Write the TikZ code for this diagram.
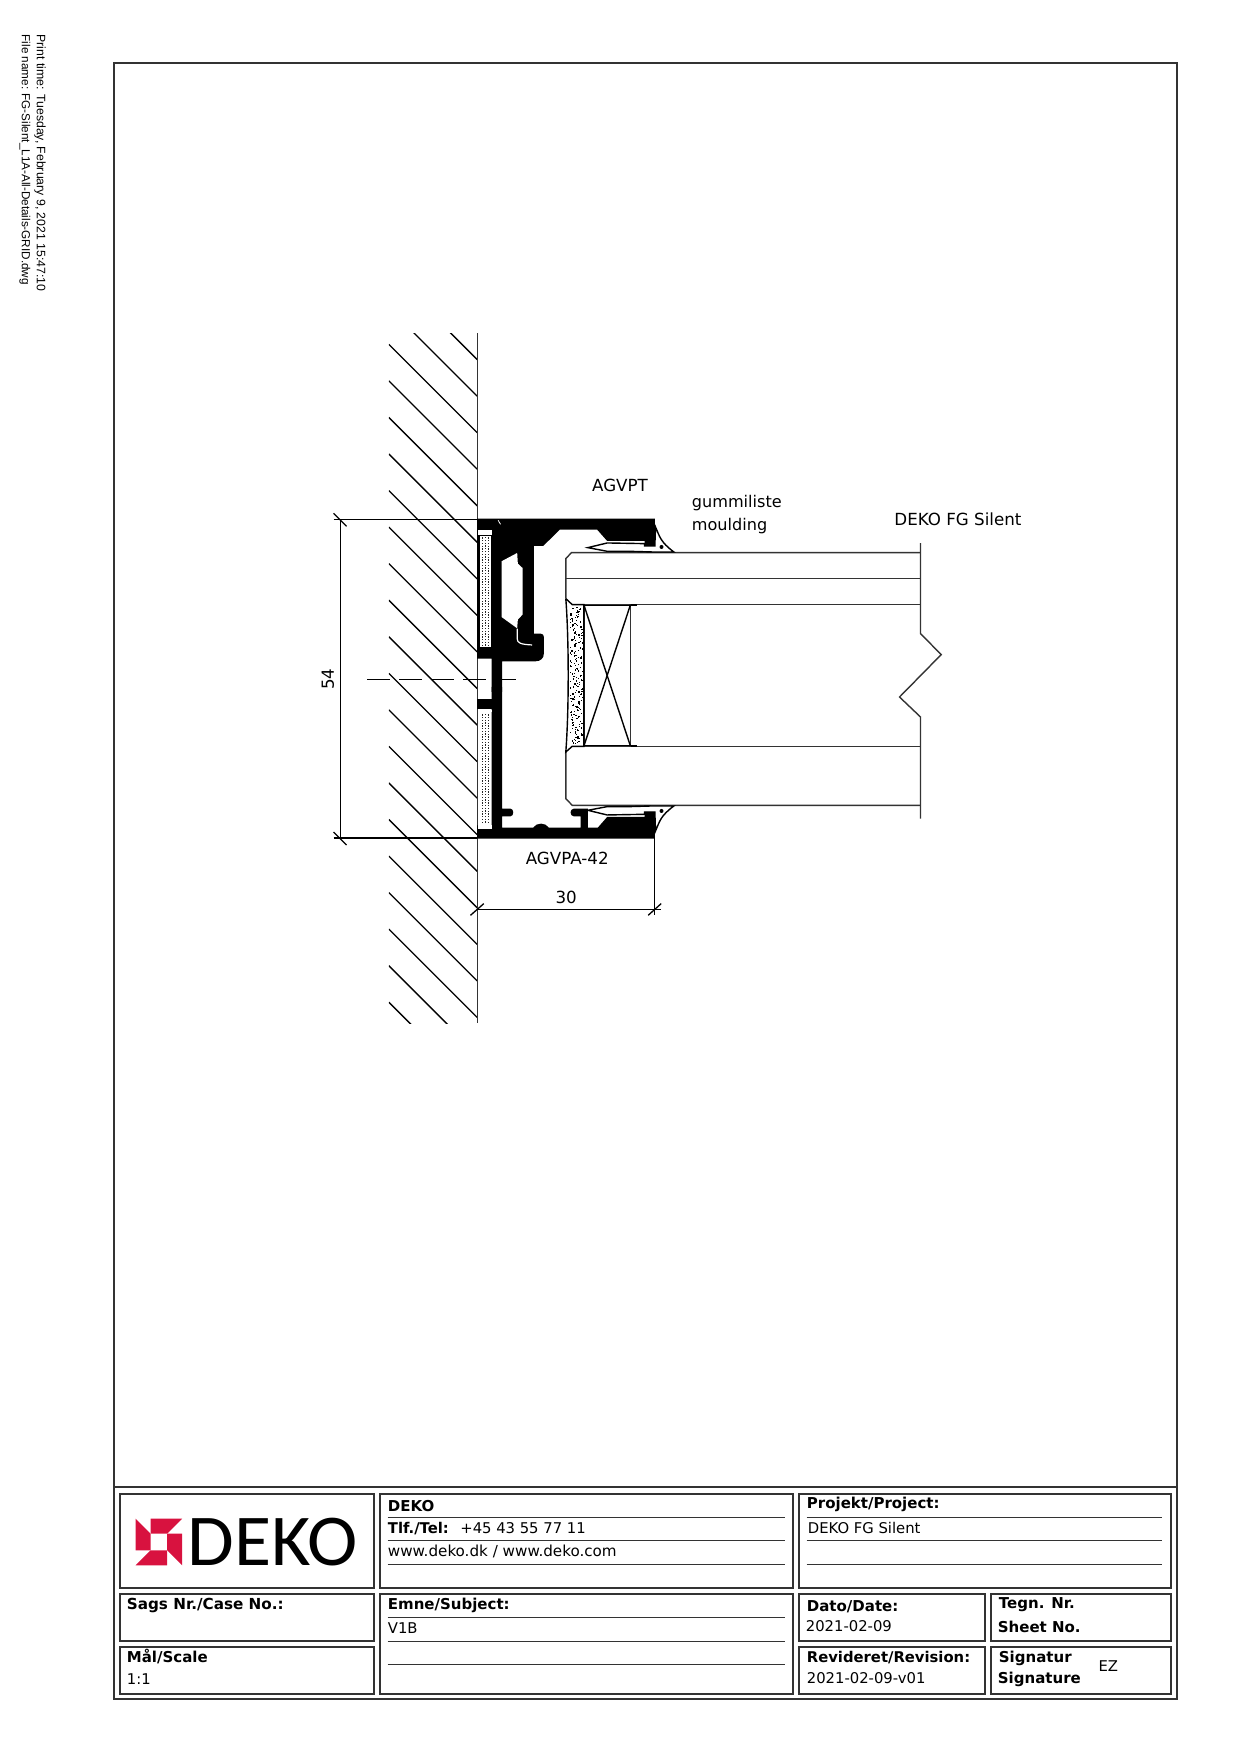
\documentclass[tikz,border=0pt]{standalone}
\usepackage{fontspec}
\setmainfont{DejaVu Sans}
\newfontfamily\printfont{Liberation Sans}
\newfontfamily\logofont{Carlito}
\usepackage{tikz}
\definecolor{dekored}{HTML}{D8123F}
\definecolor{framegray}{gray}{.2}

\tikzset{
  hatchline/.style={line width=.65pt},
  outline/.style={line width=.7pt,framegray},
  titlebox/.style={line width=1pt,framegray},
  titlerule/.style={line width=.5pt,framegray},
  fglabel/.style={inner sep=0pt,font=\fontsize{8.35}{10}\selectfont},
  gummilabel/.style={anchor=base west,inner sep=0pt,font=\fontsize{8.05}{10}\selectfont},
  titletxt/.style={anchor=base west,inner sep=0pt,font=\fontsize{7.4}{9}\selectfont},
  titlebold/.style={titletxt,font=\fontsize{7.5}{9}\selectfont\bfseries},
  printtxt/.style={anchor=west,inner sep=0pt,rotate=-90},
}
% one rubber strip, in the coordinates of the upper one
\newcommand{\gummistrip}{
      \draw[line width=.7pt,fill=white] (382,142) -- (440,128) -- (552,130) -- (552,137) -- (583,137)
        -- (585,80) .. controls (598,110) and (600,125) .. (640,155)
        -- (575,155) -- (505,153) -- (440,153) -- cycle;
      \fill (603,140) circle (6);
}

\begin{document}
\begin{tikzpicture}[x=.5pt,y=-.5pt]
      \useasboundingbox (-.5,-.3) rectangle (1239.5,1753.7);

      \node[printtxt,font=\printfont\fontsize{6.13}{7}\selectfont] (printtime) at (39.5,34) {Print time: Tuesday, February 9, 2021 15:47:10};
      \node[printtxt,font=\printfont\fontsize{5.85}{7}\selectfont] (filename) at (24.5,34) {File name: FG-Silent\_L1A-All-Details-GRID.dwg};

      \draw[titlebox] (113,63) rectangle (1176,1699);
      \draw[titlebox] (113,1486.7) -- (1176,1486.7);

      % wall
      \begin{scope}
          \clip (388.3,333) rectangle (476.7,1023);
          \foreach \k in {0,...,20}
            \draw[hatchline] (476.7,359.3+36.55*\k) -- (388.3,359.3+36.55*\k-88.4);
      \end{scope}
      \draw[outline] (476.7,333) -- (476.7,1023);

      % centre line
      \draw[line width=.55pt,dash pattern=on 11.5pt off 4.5pt] (366.7,679) -- (515.7,679);

      % door leaf
      \draw[outline] (565.3,598.3) -- (565.3,558.3) -- (571,552.3) -- (920,552.3);
      \draw[outline] (565.3,578.3) -- (920,578.3);
      \draw[outline] (571.7,604.3) -- (920,604.3);
      \draw[outline] (571.7,746) -- (920,746);
      \draw[outline] (565.3,751.7) -- (565.3,798.3) -- (571.7,805) -- (920,805);
      \draw[outline] (920,542.7) -- (920,633.3) -- (940.7,654.3) -- (899,696.7) -- (920,716.7) -- (920,818.3);
      \draw[line width=1pt] (583.3,604.3) -- (636.7,604.3);
      \draw[line width=.9pt] (583.3,746) -- (636.7,746);
      \draw[outline] (583.3,604.3) rectangle (630,746);
      \draw[line width=.7pt] (583.3,604.3) -- (630,746);
      \draw[line width=.7pt] (630,604.3) -- (583.3,746);

      % filler
      \draw[line width=.7pt,fill=white] (565.3,598.3) -- (571.7,604.3) -- (583.3,604.3) -- (583.3,746)
        -- (571.7,746) -- (565.3,751.7) .. controls (568.5,710) and (568.5,640) .. (565.3,598.3);
      \pgfmathsetseed{41}
      \foreach \i in {1,...,190} {
        \pgfmathsetmacro{\dotx}{569+rnd*12.5}
        \pgfmathsetmacro{\doty}{606+\i*.72}
        \fill (\dotx,\doty) rectangle +(1.3,1.3);
      }

      % rubber strips
      \begin{scope}[shift={(460,500)},scale=1/3]
          \gummistrip
      \end{scope}
      \begin{scope}[shift={(460,857.33)},xscale=1/3,yscale=-1/3]
          \gummistrip
      \end{scope}

      % AGVPT
      \begin{scope}[shift={(460,500)},scale=1/3]
          \fill (50,55) -- (583,55) -- (583,137) -- (552,137) -- (552,122) -- (440,122) -- (410,88)
            -- (298,88) -- (248,137) -- (220,137) -- (220,400) -- (240,400)
            .. controls (247,400) and (250,404) .. (250,410) -- (250,460)
            .. controls (250,474) and (240,483) .. (225,483) -- (125,483) -- (125,575) -- (93,575)
            -- (93,475) -- (50,475) -- cycle;
          \fill[white] (123,183) -- (170,158) -- (172,190) -- (186,203) -- (186,343) -- (172,358)
            -- (170,384) -- (123,350) -- cycle;
          \draw[white,line width=.6pt] (170,385) -- (170,415) .. controls (171,428) and (178,432) .. (215,434);
          \draw[white,line width=.4pt] (113,60) -- (120,72);
      \end{scope}

      % AGVPA-42
      \begin{scope}[shift={(460,690)},scale=1/3]
          \fill (93,-10) -- (125,-10) -- (125,355) -- (150,355) .. controls (161,355) and (161,378) .. (150,378)
            -- (125,378) -- (125,412) -- (218,412) .. controls (228,396) and (255,396) .. (265,412)
            -- (360,412) -- (360,378) -- (340,378) .. controls (327,378) and (327,355) .. (340,355)
            -- (382,355) -- (382,412) -- (412,412) -- (440,380) -- (552,380) -- (552,365) -- (583,365)
            -- (583,445) -- (50,445) -- (50,405) -- (93,405) -- cycle;
          \fill (50,25) rectangle (93,55);
      \end{scope}

      % dotted strips
      \fill[white] (477.3,530) rectangle (491,534.3);
      \fill[white] (477.3,709.3) rectangle (491,712);
      \fill[white] (477.3,825) rectangle (491,828.3);
      \foreach \yc/\yd in {536/646.7, 713/824} {
        \fill[white] (479.3,\yc) rectangle (490,\yd);
        \pgfmathsetmacro{\ystop}{\yd-5}
        \pgfmathsetmacro{\ynext}{\yc+5.5}
        \foreach \y in {\yc,\ynext,...,\ystop} {
          \fill[black!85] (481,\y+1) rectangle +(1.3,1.3);
          \fill[black!85] (484,\y-.3+1) rectangle +(1.3,1.3);
          \fill[black!85] (487,\y+1) rectangle +(1.3,1.3);
          \fill[black!85] (481,\y+3.7) rectangle +(1.3,1.3);
          \fill[black!85] (484,\y+2.4+1) rectangle +(1.3,1.3);
          \fill[black!85] (487,\y+3.7) rectangle +(1.3,1.3);
        }
      }

      % dimensions
      \coordinate (dimtop) at (340,519);
      \coordinate (dimbot) at (340,837.7);
      \coordinate (dimleft) at (476.7,909);
      \coordinate (dimright) at (654.3,909);
      \draw[hatchline] (333,519) -- (476.7,519);
      \draw[hatchline] (333,837.7) -- (476.7,837.7);
      \draw[hatchline] (dimtop) -- (dimbot);
      \draw[hatchline] (333,513) -- (346,526);
      \draw[hatchline] (333,831.7) -- (346,844.7);
      \draw[hatchline] (dimleft) -- (660,909);
      \draw[hatchline] (654.3,838) -- (654.3,915);
      \draw[hatchline] (470,915) -- (483.3,903.3);
      \draw[hatchline] (647.7,915) -- (660.7,903.3);
      \node[fglabel,rotate=90] (dim54) at (327.5,679) {54};
      \node[fglabel] (dim30) at (565.7,896.7) {30};
      \node[fglabel] (agvpa) at (566.7,857.7) {AGVPA-42};
      \node[fglabel] (agvpt) at (619.5,485) {AGVPT};
      \node[gummilabel] (gummi) at (691,507) {gummiliste};
      \node[gummilabel] (mould) at (691,530.7) {moulding};
      \node[fglabel,anchor=base west] (fgsilent) at (893.5,525.5) {DEKO FG Silent};

      % title block
      \foreach \xa/\ya/\xb/\yb in {119.2/1493.3/373.2/1587.3, 379/1493.3/792/1587.3, 798.3/1493.3/1170/1587.3,
        119.2/1593.3/373.2/1640.7, 119.2/1646.7/373.2/1693.3, 379/1593.3/792/1693.3,
        798.3/1593.3/984.3/1640.7, 990/1593.3/1170/1640.7, 798.3/1646.7/984.3/1693.3, 990/1646.7/1170/1693.3}
        \draw[titlebox] (\xa,\ya) rectangle (\xb,\yb);
      \foreach \y in {1516.7,1540,1564} {
        \draw[titlerule] (387,\y) -- (784,\y);
        \draw[titlerule] (806,\y) -- (1161.7,\y);
      }
      \foreach \y in {1616.7,1640.7,1664}
        \draw[titlerule] (387,\y) -- (784,\y);

      % logo
      \fill[dekored] (135,1518.3) -- (150,1533.3) -- (150,1550) -- (135,1550) -- cycle;
      \fill[dekored] (135,1565) -- (150,1550) -- (166.7,1550) -- (166.7,1565) -- cycle;
      \fill[dekored] (181.7,1565) -- (166.7,1550) -- (166.7,1533.3) -- (181.7,1533.3) -- cycle;
      \fill[dekored] (181.7,1518.3) -- (166.7,1533.3) -- (150,1533.3) -- (150,1518.3) -- cycle;
      \node[anchor=base west,inner sep=0pt,xscale=1.04,font=\logofont\fontsize{36.5}{40}\selectfont] (logotxt) at (186.5,1565) {DEKO};

      \node[titlebold] (deko) at (387,1511.5) {DEKO};
      \node[titletxt] (tel) at (387,1533.5) {\textbf{Tlf./Tel:}\hspace{2.6pt} +45 43 55 77 11};
      \node[titletxt,font=\fontsize{7.58}{9}\selectfont] (www) at (387,1556.5) {www.deko.dk / www.deko.com};
      \node[titlebold,font=\fontsize{7.6}{9}\selectfont\bfseries] (caseno) at (126,1609.5) {Sags Nr./Case No.:};
      \node[titlebold] (scale) at (126,1662.5) {Mål/Scale};
      \node[titletxt] (scaleval) at (126,1684.5) {1:1};
      \node[titlebold] (subject) at (387,1609.5) {Emne/Subject:};
      \node[titletxt] (subjectval) at (387,1633.5) {V1B};
      \node[titlebold] (project) at (806,1508.5) {Projekt/Project:};
      \node[titletxt] (projectval) at (807,1533.5) {DEKO FG Silent};
      \node[titlebold] (date) at (806,1611.5) {Dato/Date:};
      \node[titletxt] (dateval) at (805,1631.5) {2021-02-09};
      \node[titlebold] (tegn) at (998,1608.5) {Tegn. Nr.};
      \node[titlebold] (sheet) at (997,1632.5) {Sheet No.};
      \node[titlebold,font=\fontsize{7.4}{9}\selectfont\bfseries] (revision) at (806,1662.5) {Revideret/Revision:};
      \node[titletxt] (revisionval) at (806,1683.5) {2021-02-09-v01};
      \node[titlebold] (signatur) at (998,1662.5) {Signatur};
      \node[titlebold] (signature) at (997,1683.5) {Signature};
      \node[titletxt] (signval) at (1097.7,1671.5) {EZ};
\end{tikzpicture}
\end{document}
